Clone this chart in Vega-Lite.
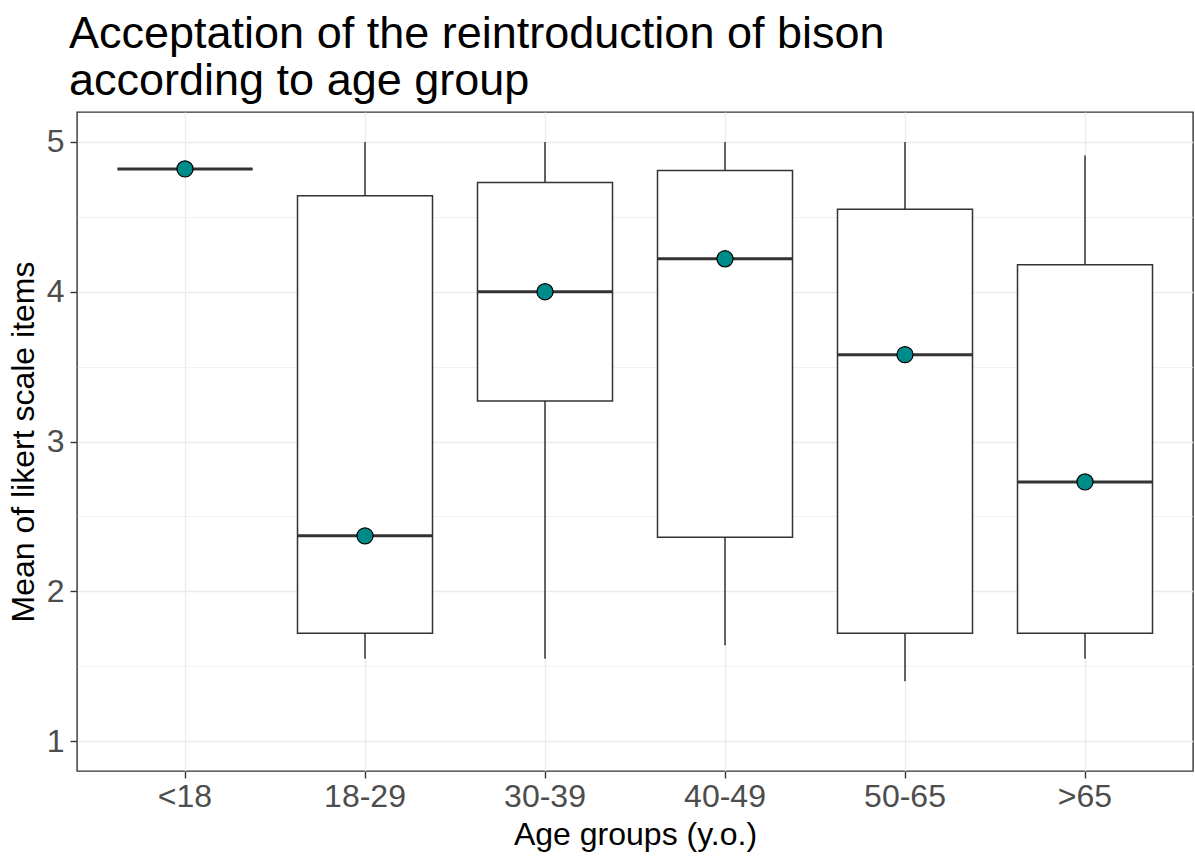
{
  "$schema": "https://vega.github.io/schema/vega-lite/v6.json",
  "autosize": "none",
  "width": 1116,
  "height": 659,
  "padding": {"left": 77, "top": 112, "right": 2, "bottom": 87},
  "background": "white",
  "title": {
    "text": ["Acceptation of the reintroduction of bison", "according to age group"],
    "anchor": "start",
    "frame": "group",
    "font": "Liberation Sans",
    "fontSize": 45,
    "fontWeight": "normal",
    "color": "#000000",
    "lineHeight": 47,
    "offset": 8,
    "dx": -8
  },
  "config": {
    "view": {"stroke": "#333333", "strokeWidth": 1.4},
    "axis": {
      "labelFont": "Liberation Sans",
      "titleFont": "Liberation Sans",
      "labelFontSize": 32,
      "titleFontSize": 32,
      "labelColor": "#4d4d4d",
      "titleColor": "#000000",
      "titleFontWeight": "normal",
      "domain": false,
      "tickColor": "#333333",
      "tickSize": 7,
      "tickWidth": 1.4,
      "gridColor": "#ebebeb",
      "gridWidth": 1.3
    }
  },
  "data": {
    "values": [
      {"age": "<18", "lo": 4.82, "q1": 4.82, "med": 4.82, "q3": 4.82, "hi": 4.82},
      {"age": "18-29", "lo": 1.55, "q1": 1.72, "med": 2.37, "q3": 4.64, "hi": 5.0},
      {"age": "30-39", "lo": 1.55, "q1": 3.27, "med": 4.0, "q3": 4.73, "hi": 5.0},
      {"age": "40-49", "lo": 1.64, "q1": 2.36, "med": 4.22, "q3": 4.81, "hi": 5.0},
      {"age": "50-65", "lo": 1.4, "q1": 1.72, "med": 3.58, "q3": 4.55, "hi": 5.0},
      {"age": ">65", "lo": 1.55, "q1": 1.72, "med": 2.73, "q3": 4.18, "hi": 4.91}
    ]
  },
  "encoding": {
    "x": {
      "field": "age",
      "type": "nominal",
      "sort": ["<18", "18-29", "30-39", "40-49", "50-65", ">65"],
      "scale": {"type": "band", "paddingInner": 0, "paddingOuter": 0.1},
      "axis": {
        "title": "Age groups (y.o.)",
        "labelAngle": 0,
        "bandPosition": 0.5,
        "grid": true,
        "labelPadding": 3,
        "titlePadding": 7
      }
    }
  },
  "layer": [
    {
      "mark": {"type": "rule", "color": "#333333", "strokeWidth": 1.5},
      "encoding": {
        "y": {
          "field": "lo",
          "type": "quantitative",
          "scale": {"domain": [0.8, 5.2], "nice": false, "zero": false},
          "axis": {
            "title": "Mean of likert scale items",
            "values": [1, 1.5, 2, 2.5, 3, 3.5, 4, 4.5, 5],
            "labelExpr": "round(datum.value) == datum.value ? format(datum.value, 'd') : ''",
            "tickOpacity": {"condition": {"test": "round(datum.value) == datum.value", "value": 1}, "value": 0},
            "gridWidth": {"condition": {"test": "round(datum.value) == datum.value", "value": 1.3}, "value": 0.7},
            "grid": true,
            "labelPadding": 6,
            "titlePadding": 6
          }
        },
        "y2": {"field": "hi"}
      }
    },
    {
      "mark": {"type": "bar", "fill": "white", "stroke": "#333333", "strokeWidth": 1.5, "width": {"band": 0.75}},
      "encoding": {
        "y": {"field": "q1", "type": "quantitative"},
        "y2": {"field": "q3"}
      }
    },
    {
      "mark": {"type": "bar", "fill": "#333333", "stroke": "#333333", "strokeWidth": 3, "width": {"band": 0.75}},
      "encoding": {
        "y": {"field": "med", "type": "quantitative"},
        "y2": {"field": "med"}
      }
    },
    {
      "mark": {"type": "point", "filled": true, "fill": "#008b8b", "stroke": "#000000", "strokeWidth": 1.2, "size": 260, "opacity": 1},
      "encoding": {
        "y": {"field": "med", "type": "quantitative"}
      }
    }
  ]
}
